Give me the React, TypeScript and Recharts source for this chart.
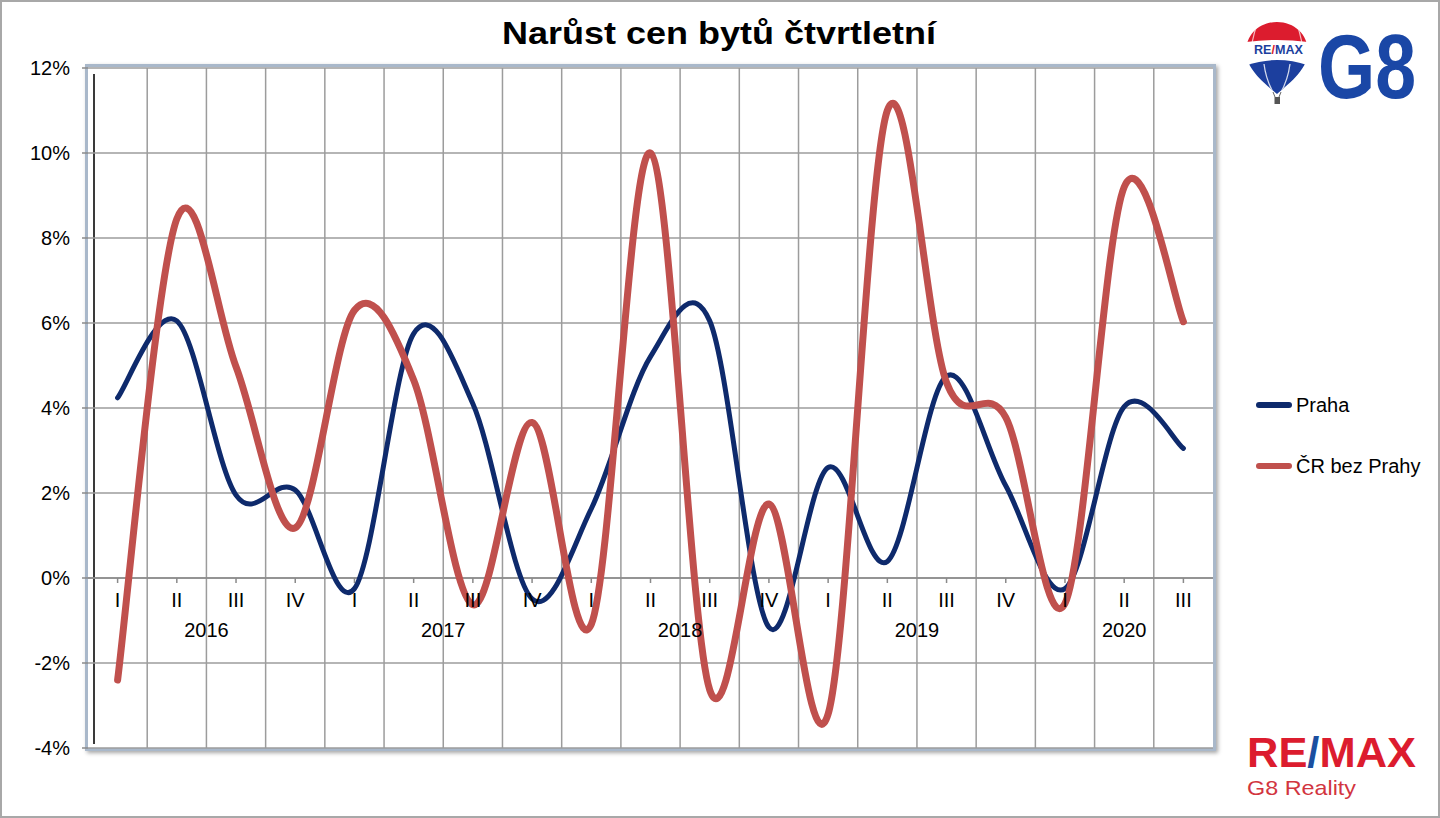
import React from 'react';
import {
  ComposedChart,
  Line,
  XAxis,
  YAxis,
  CartesianGrid,
  ReferenceLine,
  ReferenceDot,
  ReferenceArea,
  Legend,
} from 'recharts';

// ---------- data ----------
const quarters = ['I', 'II', 'III', 'IV', 'I', 'II', 'III', 'IV', 'I', 'II', 'III', 'IV', 'I', 'II', 'III', 'IV', 'I', 'II', 'III'];
const quarterYears = ['2016', '2016', '2016', '2016', '2017', '2017', '2017', '2017', '2018', '2018', '2018', '2018', '2019', '2019', '2019', '2019', '2020', '2020', '2020'];
const yearLabels = ['2016', '2017', '2018', '2019', '2020'];
const praha = [4.24, 6.05, 1.95, 2.07, -0.25, 5.75, 4.1, -0.49, 1.63, 5.21, 6.05, -1.16, 2.6, 0.39, 4.75, 2.17, -0.25, 4.03, 3.05];
const crBezPrahy = [-2.4, 8.45, 4.97, 1.18, 6.3, 4.66, -0.63, 3.66, -1.09, 10.0, -2.63, 1.74, -3.2, 11.0, 4.6, 3.78, -0.6, 9.2, 6.03];
const yTicks = [-4, -2, 0, 2, 4, 6, 8, 10, 12];
const seriesNames = { praha: 'Praha', cr: 'ČR bez Prahy' };

const data = quarters.map((q, i) => ({ idx: i, q, year: quarterYears[i], praha: praha[i], cr: crBezPrahy[i] }));
const yearRanges = yearLabels.map((y) => {
  const idxs = data.filter((d) => d.year === y).map((d) => d.idx);
  return { year: y, first: Math.min(...idxs), last: Math.max(...idxs) };
});

// ---------- style ----------
const FONT = '"Liberation Sans", Arial, Helvetica, sans-serif';
const NAVY = '#0e2a6c';
const RED = '#c0504d';
const GRID = '#9c9c9c';
const W = 1440;
const H = 818;
const MARGIN = { top: 68, right: 227, bottom: 70, left: 0 };
const Y_AXIS_W = 88;

// Excel-like smoothed line (Catmull-Rom style Bezier)
function excelSmooth(context: any) {
  let pts: number[][] = [];
  return {
    areaStart() {},
    areaEnd() {},
    lineStart() {
      pts = [];
    },
    lineEnd() {
      const n = pts.length;
      if (!n) return;
      context.moveTo(pts[0][0], pts[0][1]);
      for (let i = 0; i < n - 1; i++) {
        const p0 = pts[i - 1] || pts[i];
        const p1 = pts[i];
        const p2 = pts[i + 1];
        const p3 = pts[i + 2] || p2;
        context.bezierCurveTo(
          p1[0] + (p2[0] - p0[0]) / 6,
          p1[1] + (p2[1] - p0[1]) / 6,
          p2[0] - (p3[0] - p1[0]) / 6,
          p2[1] - (p3[1] - p1[1]) / 6,
          p2[0],
          p2[1]
        );
      }
    },
    point(x: number, y: number) {
      pts.push([+x, +y]);
    },
  };
}

const renderLegend = (props: any) => {
  const payload = props.payload || [];
  return (
    <div style={{ fontFamily: FONT }}>
      {payload.map((entry: any, i: number) => (
        <div
          key={entry.value}
          style={{ display: 'flex', alignItems: 'center', height: 40, marginTop: i === 0 ? 0 : 21 }}
        >
          <svg width={38} height={10} style={{ display: 'block' }}>
            <line x1={4} x2={34} y1={5} y2={5} stroke={entry.color} strokeWidth={6} strokeLinecap="round" />
          </svg>
          <span style={{ fontSize: 20, color: '#000', marginLeft: 3, whiteSpace: 'nowrap' }}>{entry.value}</span>
        </div>
      ))}
    </div>
  );
};

const TickMark = (props: any) => {
  const { cx, cy } = props;
  if (cx == null || cy == null) return null;
  return <line x1={cx} x2={cx} y1={cy} y2={cy + 5} stroke="#8a8a8a" strokeWidth={1.5} />;
};

export default function App() {
  return (
    <div
      style={{
        position: 'absolute',
        left: 0,
        top: 0,
        width: W,
        height: H,
        background: '#fff',
        overflow: 'hidden',
        fontFamily: FONT,
      }}
    >
      {/* outer border */}
      <div
        style={{
          position: 'absolute',
          left: 0,
          top: 0,
          width: W,
          height: H,
          boxSizing: 'border-box',
          border: '2px solid #a8a8a8',
        }}
      />
      {/* plot area frame */}
      <div
        style={{
          position: 'absolute',
          left: Y_AXIS_W - 3,
          top: MARGIN.top - 4,
          width: W - MARGIN.right - Y_AXIS_W + 6,
          height: H - MARGIN.bottom - MARGIN.top + 7,
          boxSizing: 'border-box',
          border: '3px solid #a9b8ca',
          boxShadow: '2px 2px 4px rgba(0,0,0,0.35)',
          background: '#fff',
        }}
      />
      {/* inner dark axis line */}
      <div
        style={{
          position: 'absolute',
          left: Y_AXIS_W + 5,
          top: MARGIN.top + 6,
          width: 2,
          height: H - MARGIN.bottom - MARGIN.top - 10,
          background: '#3a3a3a',
        }}
      />

      <div style={{ position: 'absolute', left: 0, top: 0 }}>
        <ComposedChart width={W} height={H} data={data} margin={MARGIN}>
          <CartesianGrid vertical={false} stroke={GRID} strokeWidth={1.5} />
          <XAxis dataKey="idx" type="number" domain={[-0.5, quarters.length - 0.5]} hide />
          <YAxis
            type="number"
            domain={[-4, 12]}
            ticks={yTicks}
            interval={0}
            width={Y_AXIS_W}
            axisLine={false}
            tickSize={6}
            tickMargin={12}
            tickLine={{ stroke: '#8a8a8a', strokeWidth: 1.5 }}
            tickFormatter={(v: number) => `${v}%`}
            tick={{ fill: '#000', fontSize: 20, fontFamily: FONT }}
          />
          {data.slice(1).map((d) => (
            <ReferenceLine key={`b${d.idx}`} x={d.idx - 0.5} stroke={GRID} strokeWidth={1.5} ifOverflow="visible" />
          ))}
          <ReferenceLine y={0} stroke="#8a8a8a" strokeWidth={1.5} />
          {data.map((d) => (
            <ReferenceDot
              key={`q${d.idx}`}
              x={d.idx}
              y={0}
              r={0}
              shape={TickMark}
              ifOverflow="visible"
              label={{ value: d.q, position: 'bottom', offset: 15, fill: '#000', fontSize: 20, fontFamily: FONT }}
            />
          ))}
          {yearRanges.map((r) => (
            <ReferenceArea
              key={r.year}
              x1={r.first - 0.5}
              x2={r.last + 0.5}
              y1={0}
              y2={0}
              fill="none"
              stroke="none"
              ifOverflow="visible"
              label={{ value: r.year, position: 'bottom', offset: 45, fill: '#000', fontSize: 20, fontFamily: FONT }}
            />
          ))}
          <Line
            dataKey="praha"
            name={seriesNames.praha}
            type={excelSmooth as any}
            stroke={NAVY}
            strokeWidth={5}
            strokeLinecap="round"
            dot={false}
            activeDot={false}
            isAnimationActive={false}
          />
          <Line
            dataKey="cr"
            name={seriesNames.cr}
            type={excelSmooth as any}
            stroke={RED}
            strokeWidth={7}
            strokeLinecap="round"
            dot={false}
            activeDot={false}
            isAnimationActive={false}
          />
          <Legend
            content={renderLegend}
            layout="horizontal"
            align="center"
            verticalAlign="middle"
            wrapperStyle={{ left: 1255, top: 385, width: 185, right: 'auto', bottom: 'auto' }}
          />
        </ComposedChart>
      </div>

      {/* title & logos */}
      <svg
        width={W}
        height={H}
        style={{ position: 'absolute', left: 0, top: 0, pointerEvents: 'none' }}
      >
        <text
          x={719}
          y={44}
          textAnchor="middle"
          fontSize={32}
          fontWeight="bold"
          fontFamily={FONT}
          fill="#000"
          textLength={434}
          lengthAdjust="spacingAndGlyphs"
        >
          Narůst cen bytů čtvrtletní
        </text>

        {/* balloon */}
        <defs>
          <clipPath id="balloonClip">
            <path d="M1277,94 C1268,86 1246,70 1246,52 C1246,34 1260,22 1277,22 C1294,22 1308,34 1308,52 C1308,70 1286,86 1277,94 Z" />
          </clipPath>
        </defs>
        <g clipPath="url(#balloonClip)">
          <rect x={1240} y={18} width={75} height={90} fill="#fff" />
          <path d="M1240,18 L1315,18 L1315,43 Q1277,37 1240,43 Z" fill="#dc1c2e" />
          <path d="M1240,68 Q1277,52 1315,68 L1315,100 L1240,100 Z" fill="#1c3f9e" />
          <path d="M1258,22 Q1254,32 1252,43" stroke="#fff" strokeWidth={1.2} fill="none" opacity={0.7} />
          <path d="M1296,22 Q1300,32 1302,43" stroke="#fff" strokeWidth={1.2} fill="none" opacity={0.7} />
          <path d="M1264,64 Q1266,80 1274,94" stroke="#fff" strokeWidth={1.3} fill="none" opacity={0.8} />
          <path d="M1290,64 Q1288,80 1280,94" stroke="#fff" strokeWidth={1.3} fill="none" opacity={0.8} />
        </g>
        <text x={1254} y={54} fontSize={13} fontWeight="bold" fontFamily={FONT} textLength={49} lengthAdjust="spacingAndGlyphs">
          <tspan fill="#1c3f9e">RE</tspan>
          <tspan fill="#dc1c2e">/</tspan>
          <tspan fill="#1c3f9e">MAX</tspan>
        </text>
        <line x1={1273} y1={92} x2={1275} y2={97} stroke="#666" strokeWidth={1} />
        <line x1={1281} y1={92} x2={1279} y2={97} stroke="#666" strokeWidth={1} />
        <rect x={1274.5} y={97} width={5.5} height={7} fill="#555" />

        {/* G8 */}
        <text
          x={1318}
          y={98}
          fontSize={90}
          fontWeight="bold"
          fontFamily={FONT}
          fill="#1a47a6"
          textLength={98}
          lengthAdjust="spacingAndGlyphs"
        >
          G8
        </text>

        {/* bottom logo */}
        <text x={1247} y={767} fontSize={42} fontWeight="bold" fontFamily={FONT} textLength={169} lengthAdjust="spacingAndGlyphs">
          <tspan fill="#dc1c2e">RE</tspan>
          <tspan fill="#1b4fa0">/</tspan>
          <tspan fill="#dc1c2e">MAX</tspan>
        </text>
        <text x={1247} y={795} fontSize={21} fontFamily={FONT} fill="#d2353f" textLength={109} lengthAdjust="spacingAndGlyphs">
          G8 Reality
        </text>
      </svg>
    </div>
  );
}
